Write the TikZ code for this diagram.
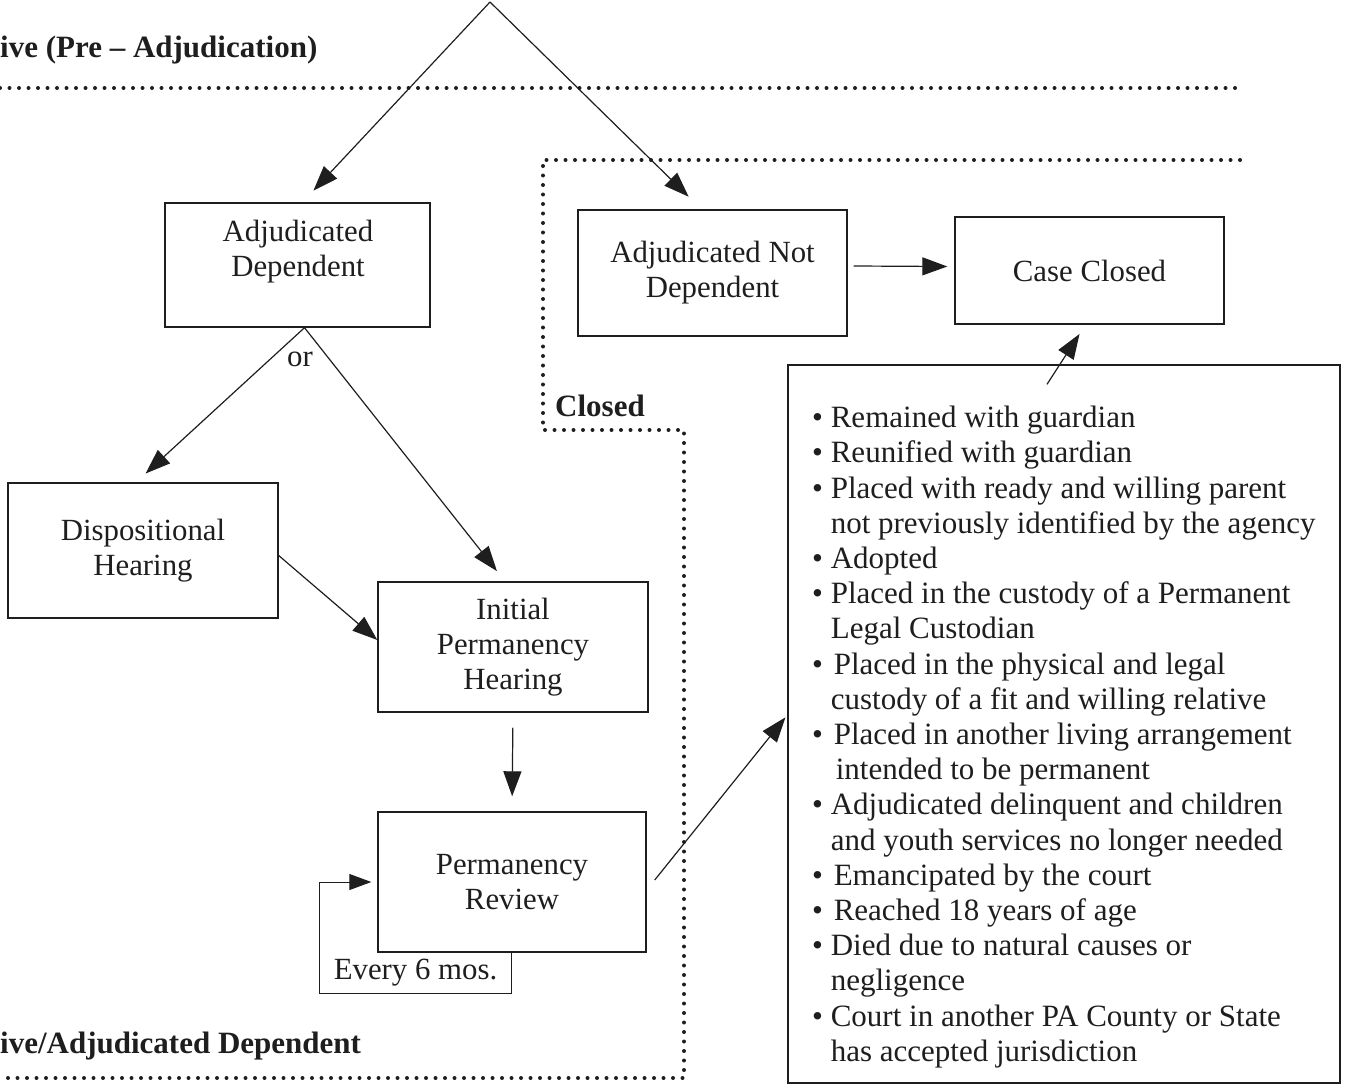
\documentclass[tikz,border=0pt]{standalone}
\usepackage{fontspec}
\setmainfont{Liberation Serif}
\usetikzlibrary{arrows.meta}
\definecolor{ink}{RGB}{30,30,30}
\newcommand{\bl}{\textbullet\ }
\newcommand{\ind}{\hphantom{\textbullet\ }}
\begin{document}
\begin{tikzpicture}[x=1pt,y=-1pt,
  txt/.style={text=ink, align=center, font=\fontsize{30.8}{35}\selectfont, inner sep=0pt},
  box/.style={draw=ink, line width=1.4pt},
  hdr/.style={text=ink, font=\fontsize{31}{35}\selectfont\bfseries, inner sep=0pt},
  arr/.style={draw=ink, line width=1.2pt, -{Triangle[length=25pt,width=18pt]}},
  thinline/.style={draw=ink, line width=1pt},
  dots/.style={draw=ink, line width=4pt, line cap=round, dash pattern=on 0pt off 9.5pt}]
\useasboundingbox (0,0) rectangle (1348,1089);

% dotted boundaries
\draw[dots] (0,88) -- (1240,88);
\draw[dots] (1240,160) -- (543,160) -- (543,430) -- (684,430) -- (684,1078) -- (0,1078);

% headings
\node[hdr, anchor=west] (h1) at (0,50) {ive (Pre – Adjudication)};
\node[hdr, anchor=west] (h2) at (0,1046) {ive/Adjudicated Dependent};
\node[hdr, anchor=west] (h3) at (555,406) {Closed};

% boxes
\node[box, minimum width=265pt, minimum height=124pt] (ad) at (297.5,265) {};
\node[txt] (adt) at (298,252) {Adjudicated\\Dependent};
\node[box, txt, minimum width=269pt, minimum height=126pt] (and) at (712.5,273) {Adjudicated Not\\Dependent};
\node[box, txt, minimum width=269pt, minimum height=107pt] (cc) at (1089.5,270.5) {Case Closed};
\node[box, txt, minimum width=270pt, minimum height=135pt] (dh) at (143,550.5) {Dispositional\\Hearing};
\node[box, txt, minimum width=270pt, minimum height=130pt] (iph) at (513,647) {Initial\\Permanency\\Hearing};
\node[box, txt, minimum width=268pt, minimum height=140pt] (pr) at (512,882) {Permanency\\Review};
\node[txt, minimum width=191pt, minimum height=41pt] (e6) at (415.5,972.5) {Every 6 mos.};
\node[box, minimum width=552pt, minimum height=718pt] (lst) at (1064,724) {};
\node[txt, align=left, anchor=north west, font=\fontsize{31}{35.2}\selectfont] (lstt) at (812,406) {%
\bl Remained with guardian\\
\bl Reunified with guardian\\
\bl Placed with ready and willing parent\\
\ind not previously identified by the agency\\
\bl Adopted\\
\bl Placed in the custody of a Permanent\\
\ind Legal Custodian\\
\bl\hspace{3pt}Placed in the physical and legal\\
\ind custody of a fit and willing relative\\
\bl\hspace{3pt}Placed in another living arrangement\\
\ind\hspace{5pt}intended to be permanent\\
\bl Adjudicated delinquent and children\\
\ind and youth services no longer needed\\
\bl\hspace{3pt}Emancipated by the court\\
\bl\hspace{3pt}Reached 18 years of age\\
\bl Died due to natural causes or\\
\ind negligence\\
\bl Court in another PA County or State\\
\ind has accepted jurisdiction};

\node[txt] (or) at (300,359) {or};

% connectors
\coordinate (apex) at (490,2);
\draw[arr, shorten >=16pt] (apex) -- ([xshift=5pt]ad.north);
\draw[arr, shorten >=18pt] (apex) -- ([xshift=-11pt]and.north);
\draw[arr, shorten >=13pt] ([xshift=7pt]ad.south) -- ([xshift=-7pt]dh.north);
\draw[arr, shorten >=13pt] ([xshift=7pt]ad.south) -- ([xshift=-8pt]iph.north);
\draw[arr] ([yshift=-5pt]dh.east) -- ([yshift=7pt]iph.west);
\draw[arr, shorten <=15pt, shorten >=15pt] (iph.south) -- (pr.north);
\draw[arr, shorten >=3pt] ([xshift=8pt,yshift=2pt]pr.east) -- ([yshift=9pt]lst.west);
\draw[arr] ([xshift=6pt,yshift=7pt]and.east) -- ([xshift=-7pt,yshift=4pt]cc.west);
\draw[arr, shorten >=11pt] ([xshift=-17pt,yshift=-20pt]lst.north) -- ([xshift=-4pt]cc.south);
\draw[thinline, -{Triangle[length=22pt,width=16pt]}, shorten >=6pt]
  (e6.north east) -- (e6.south east) -- (e6.south west) |- (pr.west);
\end{tikzpicture}
\end{document}
